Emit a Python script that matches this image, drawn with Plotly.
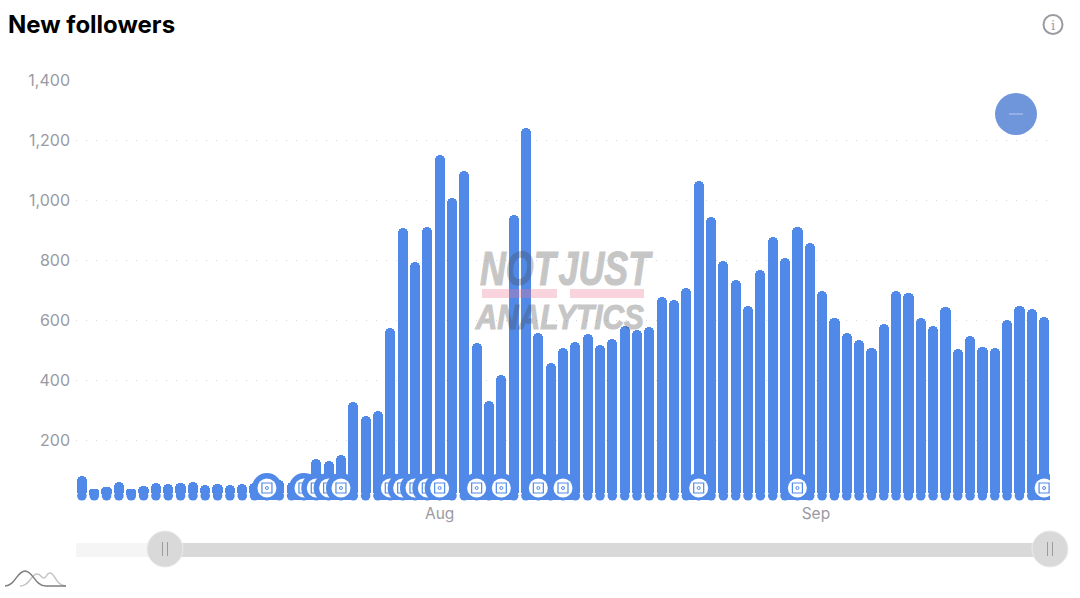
import pandas as pd
import plotly.graph_objects as go

start_date = "2024-07-03"
values = [81, 36, 44, 61, 36, 46, 56, 54, 56, 61, 51, 53, 49, 53, 56, 66, 66, 61, 86, 136,
          131, 149, 328, 281, 296, 574, 906, 794, 911, 1151, 1006, 1096, 523, 331, 418, 951, 1241, 558, 456, 506,
          528, 553, 518, 536, 581, 568, 578, 678, 666, 708, 1064, 944, 798, 734, 646, 768, 878, 806, 911, 856,
          698, 606, 558, 533, 506, 586, 698, 689, 606, 581, 644, 503, 546, 511, 506, 601, 646, 638, 611]
icon_days = [15, 18, 19, 20, 21, 25, 26, 27, 28, 29, 32, 34, 37, 39, 50, 58, 78]
y_ticks = [200, 400, 600, 800, 1000, 1200, 1400]
y_labels = ["200", "400", "600", "800", "1,000", "1,200", "1,400"]
x_ticks = ["2024-08-01", "2024-08-31 12:00"]
x_labels = ["Aug", "Sep"]

BLUE = "#5089E8"
GREY = "#9A9AA2"
FONT = "Inter, 'Liberation Sans', sans-serif"
WM_FONT = "'Liberation Sans', sans-serif"
L, R, T, B = 76.0, 1050.0, 80.0, 500.0
base_value = 14
icon_y = 40


def px(x):
    return (x - L) / (R - L)


def py(y):
    return (B - y) / (B - T)


def path(cmds):
    out = []
    for c, pts in cmds:
        out.append(c + " ".join(f"{px(x):.5f},{py(y):.5f}" for x, y in pts))
    return " ".join(out)


def shape(**kw):
    return dict(xref="paper", yref="paper", **kw)


dates = pd.date_range(start_date, periods=len(values), freq="D")
fig = go.Figure()
fig.add_trace(go.Bar(
    x=dates, y=[v - base_value for v in values], base=base_value,
    width=0.83 * 86400000, marker=dict(color=BLUE, line_width=0, cornerradius=5),
    hoverinfo="skip", showlegend=False))
fig.add_trace(go.Scatter(
    x=dates, y=[base_value] * len(values), mode="markers", cliponaxis=False,
    marker=dict(color=BLUE, size=9.6, line_width=0), hoverinfo="skip", showlegend=False))

ix, iy, isym, isize, icol, ilcol, ilw = [], [], [], [], [], [], []
for d in icon_days:
    for sym, size, col, lcol, lw in [("circle", 30, BLUE, BLUE, 0),
                                     ("circle", 19, "white", "white", 0),
                                     ("square-open", 10, BLUE, BLUE, 1.2),
                                     ("circle", 3, "white", BLUE, 1)]:
        ix.append(dates[d]); iy.append(icon_y); isym.append(sym); isize.append(size)
        icol.append(col); ilcol.append(lcol); ilw.append(lw)
fig.add_trace(go.Scatter(
    x=ix, y=iy, mode="markers", cliponaxis=True,
    marker=dict(symbol=isym, size=isize, color=icol, line=dict(color=ilcol, width=ilw), opacity=1),
    hoverinfo="skip", showlegend=False))

shapes = [
    shape(type="rect", x0=px(482), x1=px(557), y0=py(289), y1=py(298), layer="above",
          fillcolor="rgba(240,120,150,0.32)", line_width=0),
    shape(type="rect", x0=px(570), x1=px(644), y0=py(289), y1=py(298), layer="above",
          fillcolor="rgba(240,120,150,0.32)", line_width=0),
    shape(type="circle", x0=px(995), x1=px(1037), y0=py(93), y1=py(135), layer="above",
          fillcolor="#6F95DB", line_width=0),
    shape(type="line", x0=px(1009), x1=px(1023), y0=py(114), y1=py(114), layer="above",
          line=dict(color="#B9CBEE", width=1)),
    shape(type="circle", x0=px(1043.5), x1=px(1062.5), y0=py(15), y1=py(34),
          line=dict(color=GREY, width=2), fillcolor="white"),
    shape(type="rect", x0=px(76), x1=px(165), y0=py(543), y1=py(557), fillcolor="#F5F5F5", line_width=0),
    shape(type="rect", x0=px(165), x1=px(1050), y0=py(543), y1=py(557), fillcolor="#D9D9D9", line_width=0),
]
for cx in (165, 1050):
    shapes.append(shape(type="circle", x0=px(cx - 18), x1=px(cx + 18), y0=py(531), y1=py(567),
                        fillcolor="#D9D9D9", line=dict(color="#ECECEC", width=1)))
    for dx in (-2.5, 2.5):
        shapes.append(shape(type="line", x0=px(cx + dx), x1=px(cx + dx), y0=py(542), y1=py(556),
                            line=dict(color="#9C9C9C", width=1)))
shapes += [
    shape(type="path", line=dict(color="#C4C4C4", width=1.5),
          path=path([("M", [(20, 586)]), ("C", [(30, 586), (31, 574), (37, 574)]),
                     ("C", [(41, 574), (41, 578), (44, 578)]), ("C", [(47, 578), (46, 573), (50, 573)]),
                     ("C", [(55, 573), (56, 586), (66, 586)])])),
    shape(type="path", line=dict(color="#7E7E7E", width=1.5),
          path=path([("M", [(5, 586)]), ("C", [(15, 586), (17, 571), (25, 571)]),
                     ("C", [(33, 571), (35, 586), (46, 586)]), ("L", [(66, 586)])])),
]

annotations = [
    dict(text="<b>New followers</b>", x=px(6), y=py(24), xref="paper", yref="paper", xanchor="left",
         yanchor="middle", showarrow=False, font=dict(family=FONT, size=24, color="black")),
    dict(text="i", x=px(1053), y=py(25), xref="paper", yref="paper", showarrow=False,
         xanchor="center", yanchor="middle",
         font=dict(family="'DejaVu Serif', serif", size=13, color=GREY)),
    dict(text="NOT\u200aJUST", x=px(567), y=py(268), xref="paper", yref="paper", showarrow=False,
         xanchor="center", yanchor="middle", opacity=0.3,
         font=dict(family=WM_FONT, size=48, weight="bold", style="italic", color="#464646")),
    dict(text="ANALYTICS", x=px(559), y=py(316), xref="paper", yref="paper", showarrow=False,
         xanchor="center", yanchor="middle", opacity=0.3,
         font=dict(family=WM_FONT, size=35, weight="bold", style="italic", color="#464646")),
]

fig.update_layout(
    width=1080, height=598, margin=dict(l=L, r=1080 - R, t=T, b=598 - B, pad=0),
    paper_bgcolor="white", plot_bgcolor="white", bargap=0, showlegend=False,
    shapes=shapes, annotations=annotations, font=dict(family=FONT, color=GREY),
    xaxis=dict(type="date", range=[dates[0] - pd.Timedelta(hours=11.5), dates[-1] + pd.Timedelta(hours=11.5)],
               tickmode="array", tickvals=x_ticks, ticktext=x_labels, showgrid=False, showline=False,
               zeroline=False, ticks="", ticklabelstandoff=2, tickfont=dict(size=15.5, color=GREY, family=FONT)),
    yaxis=dict(range=[0, 1400], tickmode="array", tickvals=y_ticks, ticktext=y_labels, showgrid=True,
               gridcolor="#D5D5DA", griddash="1px,9px", gridwidth=1, zeroline=False, showline=False,
               ticks="", ticklabelstandoff=5, tickfont=dict(size=16, color=GREY, family=FONT)),
)
squeeze = """
document.body.style.margin='0';document.body.style.overflow='hidden';
document.querySelectorAll('.annotation-text').forEach(function(t){
  var s=t.textContent;
  if(s.indexOf('JUST')>=0){t.setAttribute('textLength','170');t.setAttribute('lengthAdjust','spacingAndGlyphs');t.style.stroke='#464646';t.style.strokeWidth='1.2px';}
  if(s.indexOf('ANALYTICS')>=0){t.setAttribute('textLength','168');t.setAttribute('lengthAdjust','spacingAndGlyphs');t.style.stroke='#464646';t.style.strokeWidth='1.2px';}
});
"""
fig.write_html("out.html", config=dict(displayModeBar=False), post_script=squeeze)
